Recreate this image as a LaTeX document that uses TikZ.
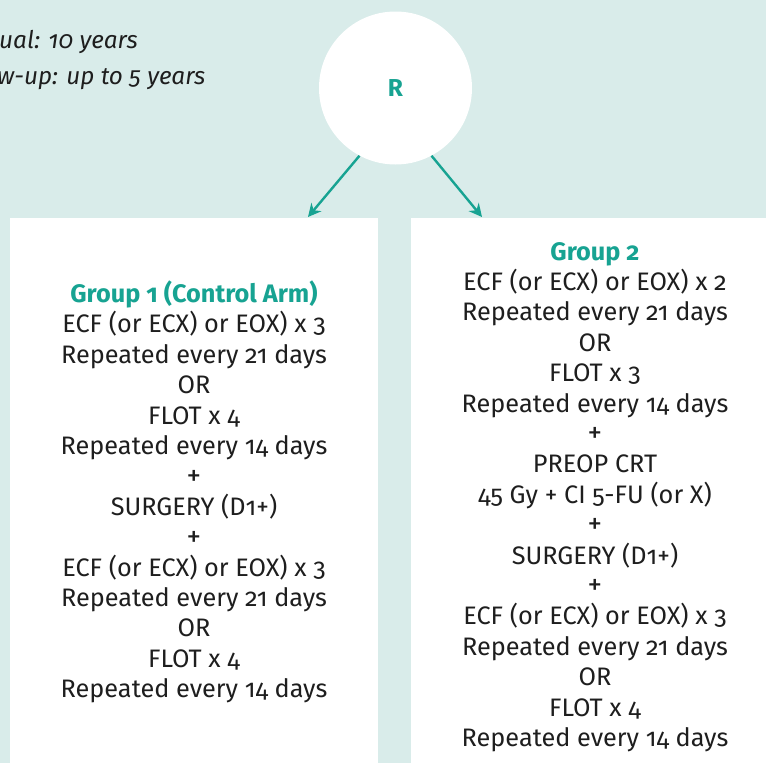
\documentclass[tikz,border=0pt]{standalone}
\usepackage{fontspec}
\setmainfont[Numbers=OldStyle]{Fira Sans}
\usetikzlibrary{arrows.meta}
\definecolor{bgteal}{HTML}{D9ECEA}
\definecolor{teal1}{HTML}{17A392}
\definecolor{txt}{HTML}{1E1E1E}
\newcommand\plusmark{\raisebox{-0.3pt}{\scalebox{1.15}{+}}}
\begin{document}
\begin{tikzpicture}[x=1pt,y=-1pt,
  panel/.style={fill=white,draw=none,anchor=north west,inner sep=0pt},
  armtext/.style={align=center,text=txt,font=\fontsize{25.3}{30.4}\selectfont,inner sep=0pt},
  note/.style={anchor=base west,text=txt,font=\itshape\fontsize{24.3}{28}\selectfont,inner sep=0pt},
  arr/.style={draw=teal1,line width=2.4pt,-{Stealth[length=13pt,width=13pt]}}]
\useasboundingbox (0,0) rectangle (766,763);
\fill[bgteal] (0,0) rectangle (766,763);
\begin{scope}
\clip (0,0) rectangle (766,763);
\node[panel,minimum width=368pt,minimum height=560pt] (box1) at (10,218) {};
\node[panel,minimum width=370pt,minimum height=560pt] (box2) at (411,218) {};
\node[note] (n1) at (-1,48) {ual: 10 years};
\node[note] (n2) at (-3,84) {w-up: up to 5 years};
\end{scope}
\node[circle,fill=white,minimum size=153pt,inner sep=0pt,text=teal1,font=\bfseries\fontsize{24.5}{28}\selectfont] (R) at (395.5,88) {R};
\coordinate (a1) at (308,217);
\coordinate (a2) at (482,217);
\draw[arr] (R.-118) -- (a1);
\draw[arr] (R.-62) -- (a2);
\node[armtext] (t1) at (194,492) {{\color{teal1}\bfseries Group 1 (Control Arm)}\\
ECF (or ECX) or EOX) x 3\\
Repeated every 21 days\\
OR\\
FLOT x 4\\
Repeated every 14 days\\
\plusmark\\
SURGERY (D1+)\\
\plusmark\\
ECF (or ECX) or EOX) x 3\\
Repeated every 21 days\\
OR\\
FLOT x 4\\
Repeated every 14 days};
\node[armtext] (t2) at (595,497) {{\color{teal1}\bfseries Group 2}\\
ECF (or ECX) or EOX) x 2\\
Repeated every 21 days\\
OR\\
FLOT x 3\\
Repeated every 14 days\\
\plusmark\\
PREOP CRT\\
45 Gy + CI 5-FU (or X)\\
\plusmark\\
SURGERY (D1+)\\
\plusmark\\
ECF (or ECX) or EOX) x 3\\
Repeated every 21 days\\
OR\\
FLOT x 4\\
Repeated every 14 days};
\end{tikzpicture}
\end{document}
